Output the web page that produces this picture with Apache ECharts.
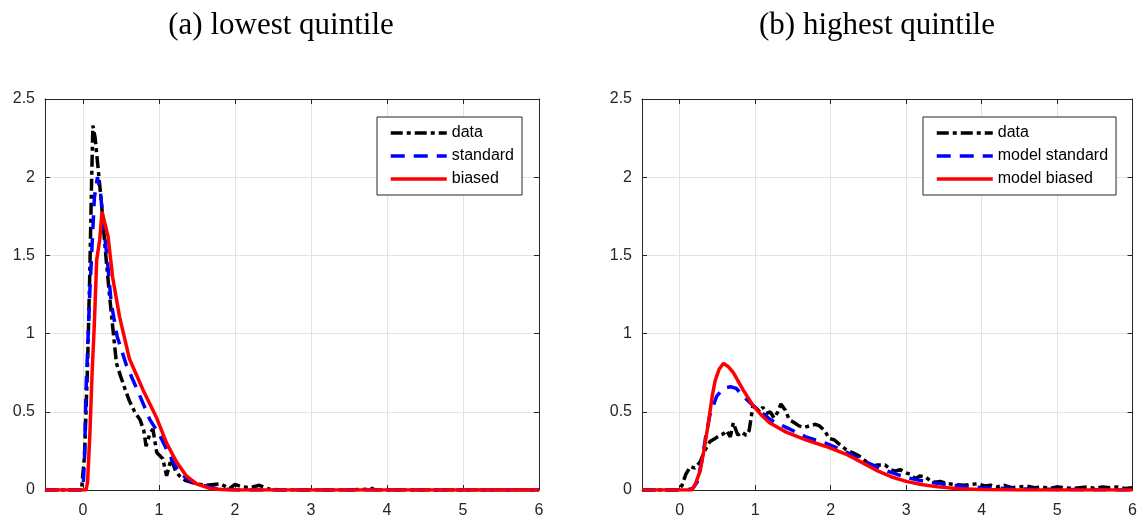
<!DOCTYPE html>
<html>
<head>
<meta charset="utf-8">
<title>quintile densities</title>
<script src="https://cdn.jsdelivr.net/npm/echarts@6.0.0/dist/echarts.min.js"></script>
<style>
  html, body { margin: 0; padding: 0; background: #fff; }
  #chart { width: 1140px; height: 519px; }
</style>
</head>
<body>
<div id="chart"></div>
<script>
// tick values shared by both panels
const xTicks = [0, 1, 2, 3, 4, 5, 6];

// (a) lowest quintile
const lowDataX = [-0.5, -0.02, 0.02, 0.06, 0.09, 0.11, 0.13, 0.16, 0.2, 0.24,
  0.3, 0.35, 0.4, 0.44, 0.5, 0.55, 0.61, 0.68, 0.75, 0.8,
  0.83, 0.88, 0.92, 0.97, 1.05, 1.1, 1.16, 1.22, 1.27, 1.35,
  1.49, 1.62, 1.8, 1.93, 2.0, 2.1, 2.2, 2.32, 2.45, 2.6,
  3.0, 3.5, 3.75, 3.8, 3.85, 4.2, 5.0, 5.5, 6.0];
const lowDataY = [0, 0, 0.22, 0.8, 1.4, 1.9, 2.33, 2.25, 2.05, 1.85,
  1.5, 1.24, 1.0, 0.81, 0.72, 0.65, 0.57, 0.5, 0.45, 0.38,
  0.28, 0.36, 0.39, 0.24, 0.2, 0.09, 0.2, 0.12, 0.09, 0.06,
  0.04, 0.03, 0.04, 0.01, 0.035, 0.02, 0.015, 0.03, 0.005, 0,
  0, 0, 0.005, 0.01, 0, 0, 0, 0, 0];

const lowStdX = [-0.5, 0.0, 0.02, 0.04, 0.09, 0.15, 0.19, 0.23, 0.28, 0.33,
  0.37, 0.45, 0.57, 0.66, 0.75, 0.88, 1.01, 1.14, 1.27, 1.4,
  1.58, 1.75, 2.0, 6.0];
const lowStdY = [0, 0, 0.2, 0.64, 1.27, 1.87, 2.0, 1.9, 1.65, 1.42,
  1.2, 0.98, 0.8, 0.7, 0.6, 0.45, 0.35, 0.22, 0.11, 0.06,
  0.03, 0.01, 0, 0];

const lowBiasX = [-0.5, 0.04, 0.06, 0.09, 0.12, 0.15, 0.18, 0.22, 0.25, 0.3,
  0.33, 0.39, 0.48, 0.61, 0.7, 0.79, 0.88, 0.97, 1.1, 1.23,
  1.36, 1.49, 1.67, 1.9, 6.0];
const lowBiasY = [0, 0, 0.05, 0.35, 0.75, 1.07, 1.47, 1.6, 1.78, 1.68,
  1.62, 1.36, 1.11, 0.84, 0.74, 0.64, 0.55, 0.46, 0.3, 0.18,
  0.09, 0.04, 0.01, 0, 0];

// (b) highest quintile
const highDataX = [-0.5, -0.02, 0.03, 0.08, 0.14, 0.2, 0.27, 0.33, 0.4, 0.47,
  0.53, 0.58, 0.62, 0.67, 0.71, 0.77, 0.82, 0.88, 0.92, 0.97,
  1.02, 1.06, 1.1, 1.15, 1.2, 1.25, 1.3, 1.34, 1.4, 1.45,
  1.52, 1.58, 1.65, 1.72, 1.8, 1.85, 1.92, 1.98, 2.05, 2.12,
  2.2, 2.28, 2.37, 2.45, 2.54, 2.62, 2.72, 2.8, 2.85, 2.92,
  3.0, 3.06, 3.12, 3.18, 3.25, 3.32, 3.38, 3.45, 3.55, 3.65,
  3.77, 3.85, 3.95, 4.05, 4.12, 4.2, 4.3, 4.4, 4.5, 4.6,
  4.7, 4.8, 4.9, 5.0, 5.1, 5.2, 5.3, 5.4, 5.5, 5.6,
  5.7, 5.8, 5.9, 6.0];
const highDataY = [0, 0, 0.03, 0.1, 0.15, 0.14, 0.18, 0.25, 0.31, 0.33,
  0.35, 0.36, 0.38, 0.34, 0.43, 0.35, 0.37, 0.35, 0.38, 0.54,
  0.52, 0.5, 0.53, 0.49, 0.5, 0.46, 0.5, 0.55, 0.51, 0.45,
  0.43, 0.41, 0.40, 0.41, 0.42, 0.41, 0.38, 0.33, 0.32, 0.29,
  0.26, 0.24, 0.22, 0.19, 0.15, 0.16, 0.16, 0.13, 0.12, 0.13,
  0.11, 0.1, 0.07, 0.09, 0.085, 0.06, 0.05, 0.055, 0.04, 0.035,
  0.03, 0.035, 0.04, 0.025, 0.03, 0.02, 0.03, 0.015, 0.02, 0.025,
  0.015, 0.02, 0.01, 0.02, 0.015, 0.01, 0.015, 0.02, 0.01, 0.02,
  0.015, 0.02, 0.01, 0.015];

const highStdX = [-0.5, 0.1, 0.17, 0.23, 0.3, 0.34, 0.4, 0.49, 0.58, 0.67,
  0.75, 0.82, 0.97, 1.2, 1.41, 1.67, 1.93, 2.2, 2.46, 2.7,
  3.0, 3.3, 3.6, 4.0, 4.5, 5.0, 6.0];
const highStdY = [0, 0, 0.01, 0.05, 0.2, 0.33, 0.48, 0.6, 0.65, 0.66,
  0.65, 0.61, 0.54, 0.45, 0.4, 0.34, 0.3, 0.245, 0.18, 0.13,
  0.08, 0.05, 0.03, 0.015, 0.007, 0.003, 0];

const highBiasX = [-0.5, 0.16, 0.2, 0.27, 0.33, 0.38, 0.43, 0.47, 0.52, 0.58,
  0.64, 0.71, 0.84, 0.97, 1.08, 1.19, 1.41, 1.67, 1.93, 2.2,
  2.4, 2.63, 2.8, 3.0, 3.2, 3.42, 3.7, 4.0, 4.5, 6.0];
const highBiasY = [0, 0, 0.03, 0.12, 0.28, 0.43, 0.6, 0.7, 0.77, 0.81,
  0.79, 0.75, 0.64, 0.54, 0.48, 0.43, 0.37, 0.32, 0.28, 0.23,
  0.18, 0.12, 0.085, 0.055, 0.035, 0.02, 0.008, 0.003, 0, 0];

document.addEventListener('DOMContentLoaded', () => {
    const chart = echarts.init(document.getElementById('chart'));
    const axisColor = '#262626';
    const gridColor = '#e3e3e3';
    const labelFont = { color: axisColor, fontSize: 16, fontFamily: 'Liberation Sans, Arial, sans-serif' };

    const pairs = (xs, ys) => xs.map((x, i) => [x, ys[i]]);

    // bottom / top x axes for one grid (MATLAB box style)
    function xAxes(gridIndex) {
        return [{
            type: 'value', gridIndex, min: -0.5, max: 6, position: 'bottom',
            axisLine: { onZero: false, lineStyle: { color: axisColor } },
            axisTick: { inside: true, length: 5, customValues: xTicks, lineStyle: { color: axisColor } },
            axisLabel: Object.assign({ margin: 13, customValues: xTicks }, labelFont),
            splitLine: { show: true, lineStyle: { color: gridColor } }
        }, {
            type: 'value', gridIndex, min: -0.5, max: 6, position: 'top',
            axisLine: { onZero: false, lineStyle: { color: axisColor } },
            axisTick: { inside: true, length: 5, customValues: xTicks, lineStyle: { color: axisColor } },
            axisLabel: { show: false, customValues: xTicks },
            splitLine: { show: false }
        }];
    }

    function yAxes(gridIndex) {
        return [{
            type: 'value', gridIndex, min: 0, max: 2.5, interval: 0.5, position: 'left',
            axisLine: { show: true, onZero: false, lineStyle: { color: axisColor } },
            axisTick: { show: true, inside: true, length: 5, lineStyle: { color: axisColor } },
            axisLabel: Object.assign({ margin: 10 }, labelFont),
            splitLine: { show: true, lineStyle: { color: gridColor } }
        }, {
            type: 'value', gridIndex, min: 0, max: 2.5, interval: 0.5, position: 'right',
            axisLine: { show: true, onZero: false, lineStyle: { color: axisColor } },
            axisTick: { show: true, inside: true, length: 5, lineStyle: { color: axisColor } },
            axisLabel: { show: false },
            splitLine: { show: false }
        }];
    }

    function line(name, xs, ys, color, type, xIdx, yIdx) {
        return {
            name, type: 'line', xAxisIndex: xIdx, yAxisIndex: yIdx,
            data: pairs(xs, ys), symbol: 'none', showSymbol: false,
            lineStyle: { color, width: 3.5, type },
            itemStyle: { color },
            emphasis: { disabled: true }
        };
    }

    const dashDot = [12, 4, 4, 4];
    const dashed = [14, 9];

    function legend(left, names) {
        return {
            orient: 'vertical', left, top: 117,
            data: names,
            itemWidth: 56, itemHeight: 16, itemGap: 7,
            padding: [8, 8, 8, 12],
            backgroundColor: '#fff',
            borderColor: axisColor, borderWidth: 1, borderRadius: 0,
            selectedMode: false,
            itemStyle: { opacity: 0 },   // hide the symbol dot, keep the line
            lineStyle: { width: 3.5 },
            textStyle: { color: '#000', fontSize: 16, lineHeight: 16, padding: [0, 0, 0, 0],
                fontFamily: 'Liberation Sans, Arial, sans-serif' }
        };
    }

    const titleFont = '31px "Liberation Serif", "Times New Roman", serif';

    const option = {
        animation: false,
        backgroundColor: '#fff',
        grid: [
            { left: 45, top: 99, width: 494, height: 392 },
            { left: 642, top: 99, width: 495, height: 392 }
        ],
        xAxis: xAxes(0).concat(xAxes(1)),
        yAxis: yAxes(0).concat(yAxes(1)),
        legend: [
            legend(377, ['data', 'standard', 'biased']),
            legend(923, ['data', 'model standard', 'model biased'])
        ],
        graphic: [
            { type: 'text', x: 281, y: 26, style: { text: '(a) lowest quintile', font: titleFont, fill: '#000', align: 'center', verticalAlign: 'middle' } },
            { type: 'text', x: 877, y: 26, style: { text: '(b) highest quintile', font: titleFont, fill: '#000', align: 'center', verticalAlign: 'middle' } }
        ],
        series: [
            line('data', lowDataX, lowDataY, '#000000', dashDot, 0, 0),
            line('standard', lowStdX, lowStdY, '#0000ff', dashed, 0, 0),
            line('biased', lowBiasX, lowBiasY, '#ff0000', 'solid', 0, 0),
            line('data', highDataX, highDataY, '#000000', dashDot, 2, 2),
            line('model standard', highStdX, highStdY, '#0000ff', dashed, 2, 2),
            line('model biased', highBiasX, highBiasY, '#ff0000', 'solid', 2, 2)
        ]
    };

    chart.setOption(option);
});
</script>
</body>
</html>
